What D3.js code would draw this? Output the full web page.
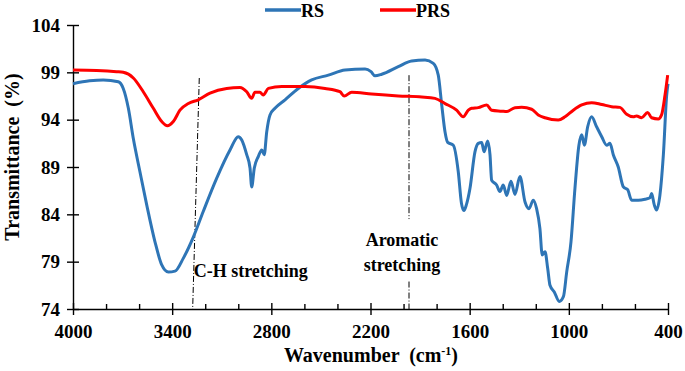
<!DOCTYPE html>
<html>
<head>
<meta charset="utf-8">
<script src="https://cdn.jsdelivr.net/npm/d3@7"></script>
<style>
  body { margin: 0; background: #fff; }
  svg text { font-family: "Liberation Serif", "Times New Roman", serif; font-weight: bold; fill: #000; }
</style>
</head>
<body>
<svg id="chart" width="685" height="371"></svg>
<script>
// RS spectrum (wavenumber, transmittance)
const rsWave = [4000, 3900, 3817, 3726, 3696, 3665, 3635, 3595, 3554, 3504, 3463, 3423, 3383, 3333, 3272, 3212, 3131, 3050, 3000, 2979, 2949, 2929, 2919, 2903, 2879, 2858, 2843, 2828, 2808, 2778, 2717, 2637, 2556, 2455, 2354, 2233, 2197, 2173, 2132, 2032, 1951, 1870, 1820, 1790, 1769, 1749, 1733, 1699, 1669, 1650, 1635, 1620, 1598, 1568, 1548, 1527, 1513, 1491, 1477, 1467, 1437, 1417, 1397, 1376, 1350, 1326, 1296, 1265, 1241, 1215, 1195, 1175, 1161, 1144, 1128, 1114, 1088, 1058, 1033, 1013, 987, 963, 939, 922, 906, 886, 862, 832, 801, 771, 751, 731, 701, 670, 644, 620, 580, 539, 509, 499, 483, 469, 449, 428, 408, 400];
const rsValue = [97.8, 98.1, 98.2, 98.0, 97.3, 95.2, 92.0, 88.5, 85.0, 81.1, 78.65, 77.9, 78.0, 79.35, 81.6, 84.3, 87.8, 90.8, 92.2, 91.85, 90.3, 88.9, 86.9, 88.9, 90.1, 90.8, 90.3, 92.7, 94.5, 95.2, 96.1, 97.3, 98.2, 98.7, 99.25, 99.35, 99.07, 98.64, 98.8, 99.6, 100.2, 100.3, 99.95, 98.7, 95.55, 92.7, 91.6, 91.3, 88.5, 85.2, 84.4, 85.0, 86.75, 90.6, 91.5, 91.6, 90.6, 91.75, 90.3, 87.6, 87.1, 86.4, 87.1, 86.0, 87.5, 86.1, 88.0, 85.3, 84.6, 85.5, 84.6, 82.5, 79.7, 80.05, 78.3, 76.5, 75.8, 74.8, 75.3, 77.9, 81.1, 86.75, 91.3, 92.4, 91.3, 93.25, 94.3, 93.25, 92.2, 91.3, 91.5, 90.3, 89.0, 86.9, 86.6, 85.5, 85.5, 85.6, 85.75, 86.2, 85.0, 84.45, 86.0, 90.3, 96.6, 97.8];

// PRS spectrum
const prsWave = [4000, 3857, 3736, 3696, 3635, 3575, 3514, 3463, 3429, 3393, 3353, 3302, 3242, 3171, 3070, 2990, 2949, 2919, 2899, 2869, 2849, 2818, 2737, 2596, 2475, 2385, 2359, 2314, 2193, 2032, 1890, 1810, 1749, 1679, 1639, 1608, 1588, 1548, 1497, 1467, 1406, 1376, 1326, 1285, 1225, 1185, 1144, 1064, 1023, 973, 922, 862, 801, 741, 691, 650, 610, 590, 560, 523, 499, 459, 439, 418, 402];
const prsValue = [99.25, 99.2, 99.07, 99.0, 98.4, 96.95, 95.2, 93.8, 93.36, 93.8, 95.0, 95.7, 96.1, 96.8, 97.3, 97.4, 96.95, 96.25, 96.9, 96.9, 96.6, 97.3, 97.5, 97.5, 97.3, 96.95, 96.5, 96.9, 96.7, 96.5, 96.4, 96.25, 95.7, 95.0, 94.3, 95.0, 95.2, 95.27, 95.55, 95.0, 94.9, 94.85, 95.27, 95.3, 95.1, 94.5, 94.2, 93.96, 94.3, 95.0, 95.55, 95.8, 95.6, 95.37, 95.3, 94.57, 94.3, 94.4, 94.2, 94.77, 94.2, 94.07, 94.5, 96.6, 98.7];

const xTicks = [4000, 3400, 2800, 2200, 1600, 1000, 400];
const yTicks = [74, 79, 84, 89, 94, 99, 104];
const seriesNames = ["RS", "PRS"];

// annotation marker lines: [wavenumber at top, wavenumber at bottom]
const chLine = [3236, 3276];
const aromLine = [1967, 1967];

const svg = d3.select("#chart");
const plotLeft = 73, plotRight = 668, plotTop = 25, plotBottom = 309;

const x = d3.scaleLinear().domain([4000, 400]).range([plotLeft, plotRight]);
const y = d3.scaleLinear().domain([74, 104]).range([plotBottom, plotTop]);

const colors = { RS: "#2e75b6", PRS: "#ff0000" };

// axes
let yAxis = svg.append("g")
    .attr("transform", `translate(${plotLeft},0)`)
    .call(d3.axisLeft(y).tickValues(yTicks).tickFormat(d3.format("d")).tickSize(6).tickSizeOuter(0).tickPadding(7));
yAxis.selectAll(".tick line").attr("x1", 6).attr("x2", -6);

let xAxis = svg.append("g")
    .attr("transform", `translate(0,${plotBottom})`)
    .call(d3.axisBottom(x).tickValues(xTicks).tickFormat(d3.format("d")).tickSize(6).tickSizeOuter(0).tickPadding(10));
xAxis.selectAll(".tick line").attr("y1", -6).attr("y2", 6);

let minor = d3.range(3800, 400, -200).filter(d => !xTicks.includes(d));
svg.append("g")
    .attr("transform", `translate(0,${plotBottom})`)
    .call(d3.axisBottom(x).tickValues(minor).tickSize(-5).tickFormat(""))
    .call(g => g.select(".domain").remove());

svg.selectAll(".domain, .tick line").attr("stroke", "#000").attr("stroke-width", 1.4);
svg.selectAll(".tick text").style("font-size", "19px");

// annotation lines
function markLine(w, v0, v1) {
    svg.append("line")
        .attr("x1", x(w[0])).attr("y1", y(v0))
        .attr("x2", x(w[1])).attr("y2", y(v1))
        .attr("stroke", "#000").attr("stroke-width", 1)
        .attr("stroke-dasharray", "6,2,1,2");
}
markLine(chLine, 98.4, 74);
markLine(aromLine, 98.7, 83.5);
markLine([aromLine[0], aromLine[0]], 76.9, 74);

// series
const line = d3.line().x(d => x(d[0])).y(d => y(d[1])).curve(d3.curveMonotoneX);
const rs = rsWave.map((w, i) => [w, rsValue[i]]);
const prs = prsWave.map((w, i) => [w, prsValue[i]]);

svg.append("path").datum(rs)
    .attr("fill", "none").attr("stroke", colors.RS).attr("stroke-width", 3)
    .attr("stroke-linejoin", "round").attr("d", line);
svg.append("path").datum(prs)
    .attr("fill", "none").attr("stroke", colors.PRS).attr("stroke-width", 3)
    .attr("stroke-linejoin", "round").attr("d", line);

// annotation text
svg.append("text").attr("x", x(chLine[1]) + 1).attr("y", 277)
    .style("font-size", "18px").text("C-H stretching");
svg.append("text").attr("x", x(aromLine[0]) - 7).attr("y", 246)
    .attr("text-anchor", "middle").style("font-size", "18px").text("Aromatic");
svg.append("text").attr("x", x(aromLine[0]) - 7).attr("y", 271)
    .attr("text-anchor", "middle").style("font-size", "18px").text("stretching");

// legend
const legendX = [265, 380];
seriesNames.forEach((name, i) => {
    svg.append("line")
        .attr("x1", legendX[i]).attr("x2", legendX[i] + 36)
        .attr("y1", 10).attr("y2", 10)
        .attr("stroke", colors[name]).attr("stroke-width", 3.5);
    svg.append("text").attr("x", legendX[i] + 36).attr("y", 17)
        .style("font-size", "18px").text(name);
});

// axis titles
svg.append("text")
    .attr("transform", `translate(19,157) rotate(-90)`)
    .attr("text-anchor", "middle").style("font-size", "20px")
    .attr("xml:space", "preserve")
    .text("Transmittance  (%)");

let xt = svg.append("text").attr("x", 371).attr("y", 362)
    .attr("text-anchor", "middle").style("font-size", "20px")
    .attr("xml:space", "preserve");
xt.append("tspan").text("Wavenumber  (cm");
xt.append("tspan").attr("dy", -7).style("font-size", "12px").text("-1");
xt.append("tspan").attr("dy", 7).text(")");
</script>
</body>
</html>
